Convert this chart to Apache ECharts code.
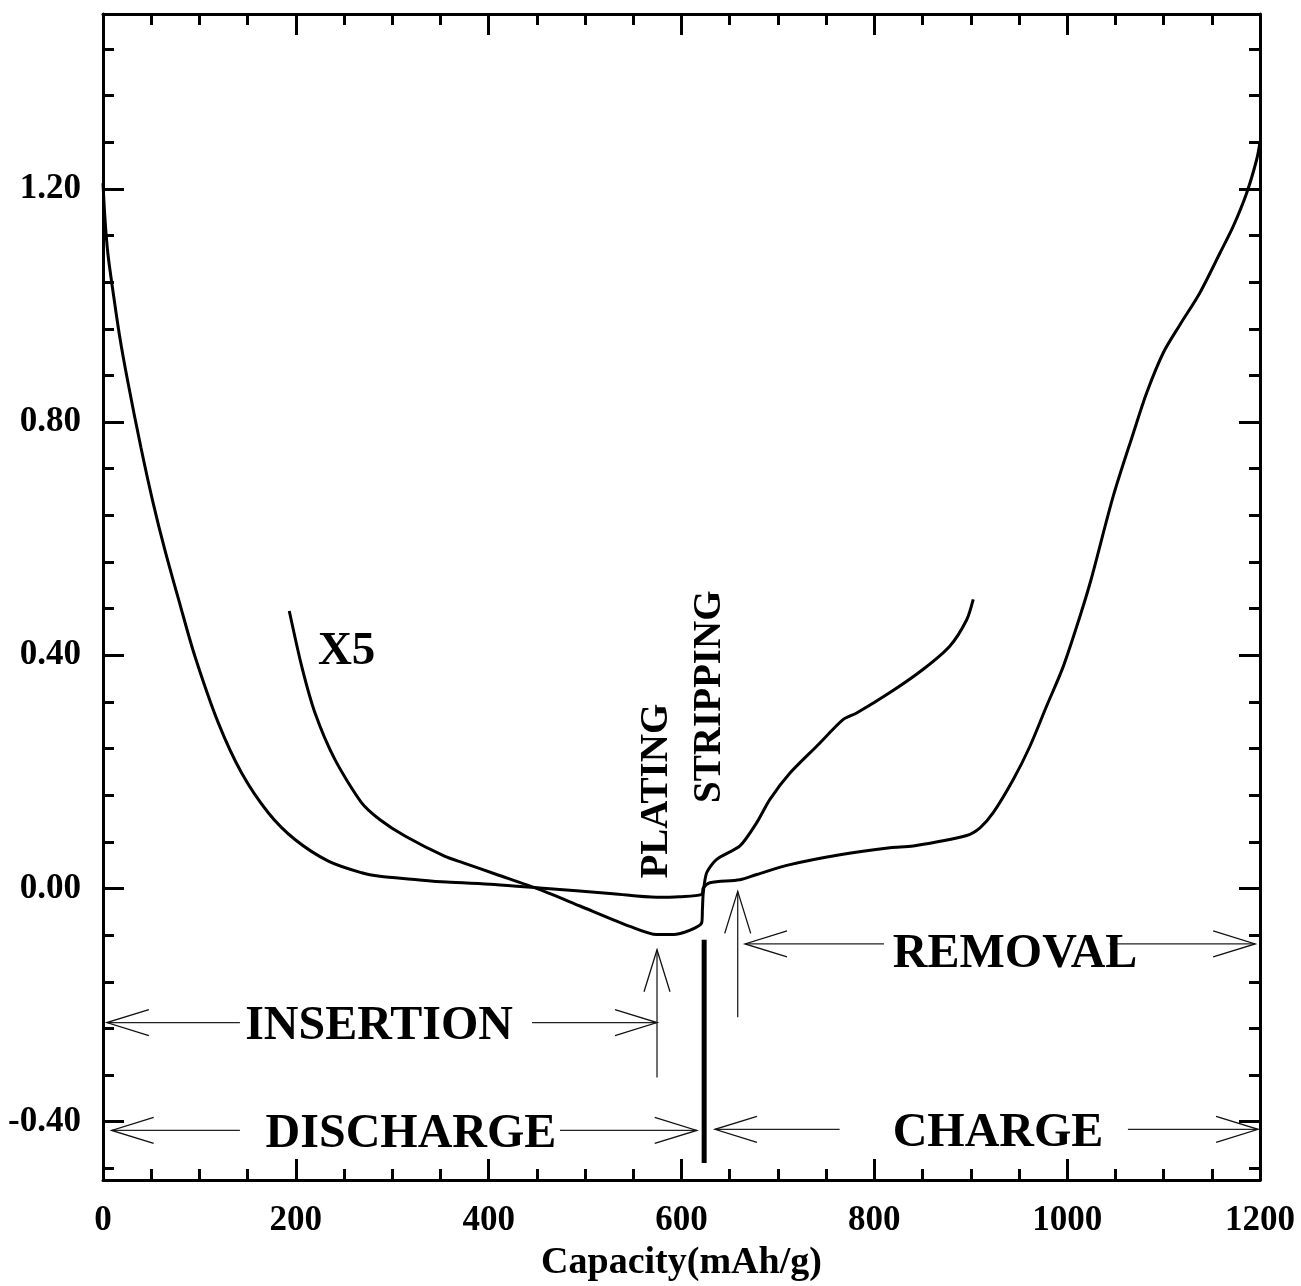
<!DOCTYPE html>
<html>
<head>
<meta charset="utf-8">
<script src="https://cdn.jsdelivr.net/npm/echarts@6/dist/echarts.min.js"></script>
<style>
  html, body { margin: 0; padding: 0; background: #fff; }
  #chart { width: 1301px; height: 1286px; }
</style>
</head>
<body>
<div id="chart"></div>
<script>
const FONT = '"Liberation Serif", "Times New Roman", serif';

// Voltage (V) vs capacity (mAh/g): discharge then charge, full scale
const curve1x = [
  [0, 1.21], [2, 1.15], [5, 1.09], [9, 1.04], [17, 0.95], [26, 0.867], [39.4, 0.756],
  [51.9, 0.662], [64.3, 0.580], [79.9, 0.487], [95.4, 0.398], [119.6, 0.284],
  [143.8, 0.198], [171.4, 0.130], [199.1, 0.084], [233.7, 0.047], [268.3, 0.027],
  [287, 0.021], [320, 0.016], [356, 0.011], [406, 0.007], [453, 0.001], [529, -0.009],
  [574, -0.015], [598, -0.014], [621, -0.010], [622.6, 0.001], [629.5, 0.010],
  [660.6, 0.015], [678, 0.024], [712.5, 0.041], [764.4, 0.058], [816.2, 0.070],
  [840.4, 0.073], [895.8, 0.091], [909.6, 0.104], [923.3, 0.130], [944.1, 0.187],
  [961.4, 0.244], [978.7, 0.313], [996, 0.381], [1013.3, 0.467], [1024.8, 0.530],
  [1047.8, 0.673], [1068.6, 0.781], [1082.4, 0.850], [1099.7, 0.919], [1117, 0.967],
  [1137.7, 1.022], [1158.5, 1.090], [1172.3, 1.136], [1186.2, 1.193], [1196.5, 1.250],
  [1200, 1.28]
];

// Same cycle with the voltage expanded five times (X5)
const curveX5 = [
  [193.2, 0.476], [206.1, 0.381], [219.9, 0.301], [240.6, 0.221], [268.3, 0.147],
  [287.3, 0.118], [313.2, 0.090], [354.7, 0.055], [373.7, 0.044], [408.3, 0.024],
  [453.2, -0.002], [494.7, -0.030], [546.6, -0.065], [574.3, -0.079], [591.5, -0.079],
  [620.9, -0.059], [621.7, -0.036], [622.6, -0.007], [626.1, 0.027], [636.5, 0.050],
  [660.6, 0.073], [678, 0.113], [691.7, 0.153], [712.5, 0.198], [740.2, 0.244],
  [767.8, 0.290], [781.7, 0.301], [816.2, 0.336], [850.7, 0.376], [878.4, 0.416],
  [895.8, 0.461], [902.6, 0.496]
];

// Bar separating discharge from charge
const dividerLine = [[623.5, -0.088], [623.5, -0.471]];

// Axis ticks and labels
const xLabelValues = [0, 200, 400, 600, 800, 1000, 1200];
const yLabelValues = [-0.40, 0.00, 0.40, 0.80, 1.20];
const yMinorValues = [
  -0.48, -0.40, -0.32, -0.24, -0.16, -0.08, 0.00, 0.08, 0.16, 0.24, 0.32, 0.40, 0.48,
  0.56, 0.64, 0.72, 0.80, 0.88, 0.96, 1.04, 1.12, 1.20, 1.28, 1.36, 1.44
];

// Annotation arrows: [tailX, tailY, tipX, tipY]
const arrows = [
  [142, -0.230, 4, -0.230],
  [445, -0.230, 574.6, -0.230],
  [574.6, -0.324, 574.6, -0.105],
  [658.3, -0.221, 658.3, -0.005],
  [810, -0.095, 665.9, -0.095],
  [1044, -0.095, 1195, -0.095],
  [142, -0.415, 9, -0.415],
  [474, -0.415, 615.8, -0.415],
  [764, -0.413, 634.7, -0.413],
  [1063, -0.413, 1198, -0.413]
];

// Annotation texts: [text, x, y, vertical, fontSize]
const notes = [
  ['X5', 252.7, 0.406, 0, 47],
  ['PLATING', 574, 0.167, 1, 39],
  ['STRIPPING', 629.6, 0.329, 1, 39],
  ['INSERTION', 286.3, -0.237, 0, 48],
  ['REMOVAL', 946, -0.113, 0, 48],
  ['DISCHARGE', 319.4, -0.422, 0, 48],
  ['CHARGE', 928.3, -0.421, 0, 48]
];

const frameLine = { color: '#000', width: 3 };
const tickLine = { color: '#000', width: 3 };
const labelStyle = { fontFamily: FONT, fontWeight: 'bold', fontSize: 35, color: '#000' };

function xAxisDef(pos, withLabels) {
  return {
    type: 'value', position: pos, min: 0, max: 1200, interval: 200,
    axisLine: { show: true, onZero: false, lineStyle: frameLine },
    axisTick: { show: true, inside: true, length: 21, lineStyle: tickLine },
    minorTick: { show: true, splitNumber: 4, length: 11, lineStyle: tickLine },
    splitLine: { show: false },
    axisLabel: withLabels
      ? Object.assign({ show: true, margin: 23, customValues: xLabelValues,
          formatter: v => String(v) }, labelStyle)
      : { show: false }
  };
}

function yAxisDef(pos, values, len, withLine, withLabels) {
  return {
    type: 'value', position: pos, min: -0.5, max: 1.5,
    axisLine: { show: withLine, onZero: false, lineStyle: frameLine },
    axisTick: { show: true, inside: true, length: len, customValues: values, lineStyle: tickLine },
    splitLine: { show: false },
    axisLabel: withLabels
      ? Object.assign({ show: true, margin: 22, customValues: values,
          formatter: v => Number(v).toFixed(2) }, labelStyle)
      : { show: false }
  };
}

const chart = echarts.init(document.getElementById('chart'), null, { renderer: 'canvas' });

const xBottom = xAxisDef('bottom', true);
xBottom.name = 'Capacity(mAh/g)';
xBottom.nameLocation = 'middle';
xBottom.nameGap = 64;
xBottom.nameTextStyle = { fontFamily: FONT, fontWeight: 'bold', fontSize: 38, color: '#000' };

chart.setOption({
  animation: false,
  backgroundColor: '#fff',
  grid: { left: 103, right: 41, top: 14, bottom: 106, containLabel: false, outerBoundsMode: 'none' },
  xAxis: [xBottom, xAxisDef('top', false)],
  yAxis: [
    yAxisDef('left', yLabelValues, 21, true, true),
    yAxisDef('left', yMinorValues, 11, false, false),
    yAxisDef('right', yLabelValues, 21, true, false),
    yAxisDef('right', yMinorValues, 11, false, false)
  ],
  series: [
    {
      type: 'line', data: curve1x, xAxisIndex: 0, yAxisIndex: 0,
      symbol: 'none', smooth: 0.3, clip: true,
      lineStyle: { color: '#000', width: 3 }
    },
    {
      type: 'line', data: curveX5, xAxisIndex: 0, yAxisIndex: 0,
      symbol: 'none', smooth: 0.25,
      lineStyle: { color: '#000', width: 3 }
    },
    {
      type: 'line', data: dividerLine, xAxisIndex: 0, yAxisIndex: 0,
      symbol: 'none', lineStyle: { color: '#000', width: 5 }
    },
    {
      type: 'custom', xAxisIndex: 0, yAxisIndex: 0, clip: false,
      data: arrows,
      renderItem: function (params, api) {
        const p0 = api.coord([api.value(0), api.value(1)]);
        const p1 = api.coord([api.value(2), api.value(3)]);
        const dx = p1[0] - p0[0], dy = p1[1] - p0[1];
        const len = Math.hypot(dx, dy) || 1;
        const ux = dx / len, uy = dy / len;
        const L = 42, W = 13;
        const b1 = [p1[0] - ux * L - uy * W, p1[1] - uy * L + ux * W];
        const b2 = [p1[0] - ux * L + uy * W, p1[1] - uy * L - ux * W];
        return {
          type: 'group',
          children: [
            { type: 'line', shape: { x1: p0[0], y1: p0[1], x2: p1[0], y2: p1[1] },
              style: { stroke: '#222', lineWidth: 1.3 } },
            { type: 'polyline', shape: { points: [b1, p1, b2] },
              style: { stroke: '#111', lineWidth: 1.3, fill: null } }
          ]
        };
      }
    },
    {
      type: 'custom', xAxisIndex: 0, yAxisIndex: 0, clip: false,
      data: notes.map(n => [n[1], n[2]]),
      renderItem: function (params, api) {
        const n = notes[params.dataIndex];
        const p = api.coord([api.value(0), api.value(1)]);
        return {
          type: 'text',
          x: p[0], y: p[1],
          rotation: n[3] ? Math.PI / 2 : 0,
          style: {
            text: n[0],
            font: 'bold ' + n[4] + 'px ' + FONT,
            fill: '#000',
            align: 'center',
            verticalAlign: 'middle'
          }
        };
      }
    }
  ]
});
</script>
</body>
</html>
